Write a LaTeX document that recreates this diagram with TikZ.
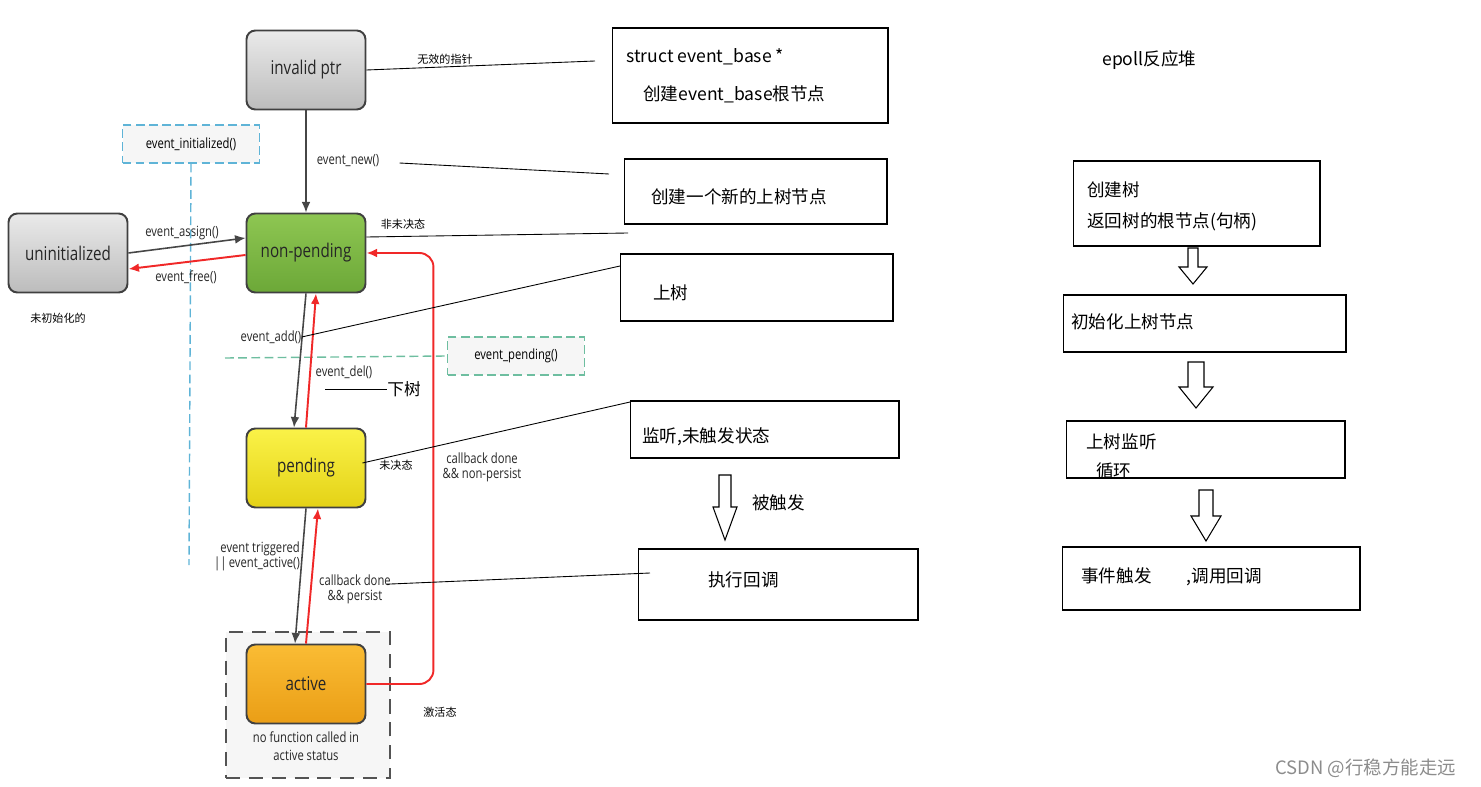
\documentclass[tikz,border=0pt]{standalone}
\usepackage{fontspec}
\setmainfont{Noto Sans CJK SC}
\newfontfamily\statefont[FakeStretch=0.8]{Open Sans}
\usetikzlibrary{arrows.meta}
\usetikzlibrary{calc}

\definecolor{stateborder}{RGB}{64,64,64}
\definecolor{grayhi}{RGB}{234,234,234}
\definecolor{graylo}{RGB}{188,188,188}
\definecolor{greenhi}{RGB}{142,198,82}
\definecolor{greenlo}{RGB}{108,168,56}
\definecolor{yellowhi}{RGB}{250,242,72}
\definecolor{yellowlo}{RGB}{228,210,22}
\definecolor{orangehi}{RGB}{250,188,52}
\definecolor{orangelo}{RGB}{234,158,22}
\definecolor{flowred}{RGB}{240,40,40}
\definecolor{flowgray}{RGB}{70,70,70}
\definecolor{hintblue}{RGB}{95,180,215}
\definecolor{hintgreen}{RGB}{110,190,160}
\definecolor{hintfill}{RGB}{246,246,246}

\tikzset{
  state/.style={draw=stateborder, line width=1.1pt, rounded corners=5pt,
    minimum width=2.38cm, minimum height=1.58cm, inner sep=0pt, text=black!85,
    font=\statefont\fontsize{10.8}{12}\selectfont},
  idle/.style={state, top color=grayhi, bottom color=graylo},
  fn/.style={font=\statefont\fontsize{8}{9.5}\selectfont, inner sep=0pt, text=black!85},
  hintbox/.style={dash pattern=on 5pt off 2.5pt, line width=0.8pt, fill=hintfill,
    minimum width=2.74cm, minimum height=0.76cm, inner sep=0pt,
    font=\statefont\fontsize{8}{9.5}\selectfont},
  go/.style={draw=flowgray, line width=0.9pt, -{Latex[length=6pt,width=5pt]}},
  back/.style={draw=flowred, line width=1.1pt, -{Latex[length=6pt,width=5pt]}},
  notebox/.style={draw=black, line width=0.6pt, inner sep=0pt},
  memo/.style={font=\fontsize{10}{12}\selectfont, anchor=west, inner sep=0pt},
  tag/.style={font=\fontsize{6.3}{7}\selectfont, inner sep=0pt},
  wire/.style={black, line width=0.5pt}
}

\begin{document}
\begin{tikzpicture}[x=0.02cm,y=-0.02cm]
\useasboundingbox (0,0) rectangle (1481,787);
% x, top, head start, tip, shaft half width, head half width
\newcommand*{\blockarrow}[6]{%
  \draw[black, line width=0.6pt, fill=white] (#1-#5,#2) -- (#1+#5,#2) -- (#1+#5,#3)
    -- (#1+#6,#3) -- (#1,#4) -- (#1-#6,#3) -- (#1-#5,#3) -- cycle;}

% helper checks
\node[hintbox, draw=hintblue] (initq) at (191,144) {event\_initialized()};
\coordinate (initend) at (189,565);
\draw[hintblue, dash pattern=on 5pt off 2.5pt, line width=0.8pt] (initq.south) -- (initend);
\node[hintbox, draw=hintgreen] (pendq) at (516,356) {event\_pending()};
\coordinate (pendstart) at (225,358);
\draw[hintgreen, dash pattern=on 5pt off 2.5pt, line width=0.8pt] (pendstart) -- (pendq.west);

% active status frame
\node[draw=stateborder!90, fill=hintfill, dash pattern=on 8pt off 5pt, line width=1.3pt,
  minimum width=3.28cm, minimum height=2.92cm] (frame) at (308,705) {};
\node[fn, align=center, font=\statefont\fontsize{8}{10.5}\selectfont] (frametxt) at (306,746)
  {no function called in\\active status};

% states
\node[idle] (invalid) at (306,70) {invalid ptr};
\node[idle] (uninit) at (68,253) {uninitialized};
\node[state, top color=greenhi, bottom color=greenlo] (nonpend) at (306,253) {non-pending};
\node[state, top color=yellowhi, bottom color=yellowlo] (pend) at (306,468) {pending};
\node[state, top color=orangehi, bottom color=orangelo] (active) at (306,684) {active};

% transitions
\draw[go] (invalid.south) -- (nonpend.north);
\draw[go] (uninit.east) -- ($(nonpend.west)+(0,-15)$);
\draw[back] ($(nonpend.west)+(0,2)$) -- ($(uninit.east)+(0,16)$);
\draw[go] (nonpend.south) -- ($(pend.north)+(-12,0)$);
\draw[back] (pend.north) -- ($(nonpend.south)+(10,0)$);
\draw[go] (pend.south) -- ($(active.north)+(-11,0)$);
\draw[back] (active.north) -- ($(pend.south)+(12,0)$);
\draw[back, rounded corners=8pt] (active.east) -- ++(67,0) |- (nonpend.east);

\node[fn] (newlbl) at (348,161) {event\_new()};
\node[fn] (assignlbl) at (182,233) {event\_assign()};
\node[fn] (freelbl) at (186,277) {event\_free()};
\node[fn] (addlbl) at (271,337) {event\_add()};
\node[fn] (dellbl) at (344,372) {event\_del()};
\node[fn, align=right] (triglbl) at (257,556) {event triggered\\[-1pt]||\,event\_active()};
\node[fn, align=center] (persistlbl) at (355,589) {callback done\\[-1pt]\&\& persist};
\node[fn, align=center] (nonpersistlbl) at (482,467) {callback done\\[-1pt]\&\& non-persist};

% notes in the middle column
\node[notebox, minimum width=5.52cm, minimum height=1.9cm] (basebox) at (750,75.5) {};
\node[memo] (basetxt1) at (626,57) {struct event\_base *};
\node[memo] (basetxt2) at (643,94) {创建event\_base根节点};
\node[notebox, minimum width=5.26cm, minimum height=1.3cm] (newbox) at (755.5,191.5) {};
\node[memo] (newtxt) at (651,197) {创建一个新的上树节点};
\node[notebox, minimum width=5.46cm, minimum height=1.34cm] (addbox) at (756.5,287.5) {};
\node[memo] (addtxt) at (653,293) {上树};
\node[notebox, minimum width=5.38cm, minimum height=1.14cm] (waitbox) at (764.5,429.5) {};
\node[memo] (waittxt) at (642,437) {监听,未触发状态};
\blockarrow{725}{475}{507}{540}{6}{12}
\node[memo] (firetxt) at (752,503) {被触发};
\node[notebox, minimum width=5.6cm, minimum height=1.42cm] (cbbox) at (778,584.5) {};
\node[memo] (cbtxt) at (708,580) {执行回调};

% lead lines
\coordinate (invalidend) at (595,61);
\draw[wire] (invalid.east) -- (invalidend);
\node[tag] (invalidtag) at (445,59) {无效的指针};
\coordinate (newend) at (609,174);
\draw[wire] ($(newlbl.east)+(20,2)$) -- (newend);
\coordinate (nonpendend) at (628,233);
\draw[wire] ($(nonpend.east)+(0,-16)$) -- (nonpendend);
\node[tag] (nonpendtag) at (403,224) {非未决态};
\coordinate (addend) at (620,266);
\draw[wire] (addlbl.east) -- (addend);
\coordinate (delstart) at (325,389);
\node[memo, font=\fontsize{9.5}{11}\selectfont] (deltxt) at (387,389) {下树};
\draw[wire] (delstart) -- (deltxt.west);
\coordinate (pendend) at (630,402);
\draw[wire] ($(pend.east)+(-4,-5)$) -- (pendend);
\node[tag] (pendtag) at (396,465) {未决态};
\coordinate (persistend) at (650,573);
\draw[wire] ($(persistlbl.north east)+(-4,10)$) -- (persistend);
\node[tag] (activetag) at (440,712) {激活态};
\node[tag] (uninittag) at (58,318) {未初始化的};

% epoll column
\node[memo] (epolltxt) at (1102,60) {epoll反应堆};
\node[notebox, minimum width=4.94cm, minimum height=1.7cm] (treebox) at (1196.5,203.5) {};
\node[memo] (treetxt1) at (1087,190) {创建树};
\node[memo] (treetxt2) at (1087,222) {返回树的根节点(句柄)};
\blockarrow{1193}{248}{267}{284}{5}{14}
\node[notebox, minimum width=5.66cm, minimum height=1.14cm] (initbox) at (1204.5,323.5) {};
\node[memo] (inittxt) at (1071,322) {初始化上树节点};
\blockarrow{1196}{362}{387}{408}{8}{17}
\node[notebox, minimum width=5.58cm, minimum height=1.14cm] (loopbox) at (1205.5,449.5) {};
\node[memo] (looptxt1) at (1086,442) {上树监听};
\node[memo] (looptxt2) at (1096,471) {循环};
\blockarrow{1206}{490}{516}{541}{7}{15}
\node[notebox, minimum width=5.96cm, minimum height=1.26cm] (firebox) at (1211,578.5) {};
\node[memo] (fireboxtxt) at (1081,577) {事件触发\hspace{2em},调用回调};

\node[memo, text=black!45, font=\fontsize{10.5}{12}\selectfont] (mark) at (1275,768) {CSDN @行稳方能走远};
\end{tikzpicture}
\end{document}
